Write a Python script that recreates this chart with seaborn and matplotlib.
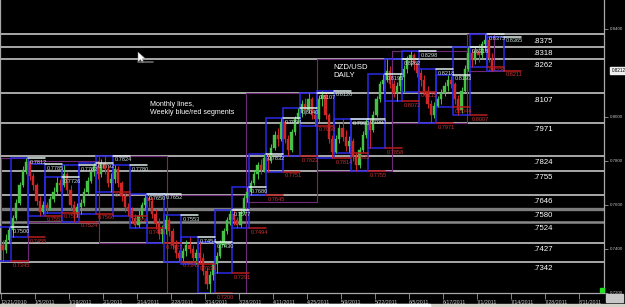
import numpy as np
import pandas as pd
import matplotlib
matplotlib.use("Agg")
import matplotlib.pyplot as plt
from matplotlib.patches import Rectangle, Polygon
import seaborn as sns

# ---------------- data ----------------
first_open = 0.7420
closes = [0.7395, 0.7440, 0.7485,
          0.7540, 0.7610, 0.7690, 0.7760, 0.7795,
          0.7730, 0.7690, 0.7620, 0.7570, 0.7600,
          0.7585, 0.7625, 0.7660, 0.7700, 0.7690,
          0.7740, 0.7670, 0.7600, 0.7560, 0.7590,
          0.7610, 0.7660, 0.7710, 0.7750, 0.7775,
          0.7740, 0.7790, 0.7765, 0.7700, 0.7720,
          0.7765, 0.7700, 0.7640, 0.7590, 0.7575,
          0.7540, 0.7510, 0.7550, 0.7600, 0.7630,
          0.7620, 0.7560, 0.7520, 0.7470, 0.7490,
          0.7530, 0.7480, 0.7420, 0.7380, 0.7360,
          0.7390, 0.7420, 0.7400, 0.7360, 0.7380,
          0.7360, 0.7300, 0.7240, 0.7280, 0.7330,
          0.7370, 0.7420, 0.7480, 0.7530, 0.7560,
          0.7530, 0.7510, 0.7570, 0.7630, 0.7660,
          0.7700, 0.7740, 0.7780, 0.7760, 0.7815,
          0.7800, 0.7860, 0.7920, 0.7900, 0.7975,
          0.7900, 0.7850, 0.7930, 0.7990, 0.8020,
          0.8060, 0.8030, 0.8080, 0.8010, 0.7990,
          0.8080, 0.8100, 0.8010, 0.7900, 0.7840,
          0.7900, 0.7950, 0.7910, 0.7870, 0.7890,
          0.7820, 0.7780, 0.7850, 0.7920, 0.7975,
          0.7940, 0.8010, 0.8080, 0.8150, 0.8170,
          0.8210, 0.8150, 0.8110, 0.8140, 0.8180,
          0.8220, 0.8260, 0.8280, 0.8240, 0.8200,
          0.8170, 0.8120, 0.8060, 0.8010, 0.8050,
          0.8080, 0.8110, 0.8140, 0.8170, 0.8150,
          0.8080, 0.8030, 0.8120, 0.8220, 0.8290,
          0.8260, 0.8300, 0.8280, 0.8330, 0.8350,
          0.8270, 0.8212]
highs = [0.7440, 0.7470, 0.7500,
         0.7555, 0.7625, 0.7705, 0.7775, 0.7812,
         0.7785, 0.7745, 0.7700, 0.7640, 0.7620,
         0.7615, 0.7640, 0.7680, 0.7726, 0.7720,
         0.7782, 0.7750, 0.7690, 0.7620, 0.7610,
         0.7625, 0.7675, 0.7725, 0.7770, 0.7792,
         0.7800, 0.7810, 0.7824, 0.7780, 0.7745,
         0.7780, 0.7775, 0.7710, 0.7655, 0.7610,
         0.7590, 0.7560, 0.7575, 0.7615, 0.7650,
         0.7652, 0.7635, 0.7580, 0.7540, 0.7510,
         0.7553, 0.7545, 0.7495, 0.7440, 0.7395,
         0.7405, 0.7440, 0.7454, 0.7420, 0.7400,
         0.7430, 0.7380, 0.7320, 0.7300, 0.7345,
         0.7385, 0.7440, 0.7495, 0.7545, 0.7577,
         0.7580, 0.7545, 0.7585, 0.7645, 0.7680,
         0.7715, 0.7760, 0.7795, 0.7810, 0.7832,
         0.7830, 0.7875, 0.7935, 0.7950, 0.7994,
         0.7985, 0.7920, 0.7945, 0.8005, 0.8040,
         0.8075, 0.8085, 0.8107, 0.8090, 0.8030,
         0.8095, 0.8120, 0.8105, 0.8020, 0.7920,
         0.7920, 0.7970, 0.7990, 0.7940, 0.7915,
         0.7905, 0.7840, 0.7865, 0.7935, 0.7993,
         0.7990, 0.8025, 0.8095, 0.8165, 0.8195,
         0.8262, 0.8230, 0.8170, 0.8160, 0.8200,
         0.8235, 0.8275, 0.8298, 0.8290, 0.8255,
         0.8218, 0.8190, 0.8140, 0.8075, 0.8070,
         0.8095, 0.8125, 0.8160, 0.8193, 0.8185,
         0.8160, 0.8100, 0.8135, 0.8235, 0.8318,
         0.8310, 0.8320, 0.8330, 0.8345, 0.8375,
         0.8365, 0.8290]
lows = [0.7345, 0.7380, 0.7430,
        0.7455, 0.7530, 0.7600, 0.7680, 0.7740,
        0.7715, 0.7670, 0.7600, 0.7551, 0.7560,
        0.7565, 0.7575, 0.7615, 0.7650, 0.7665,
        0.7680, 0.7650, 0.7580, 0.7524, 0.7545,
        0.7560, 0.7595, 0.7650, 0.7700, 0.7730,
        0.7720, 0.7725, 0.7740, 0.7680, 0.7660,
        0.7700, 0.7680, 0.7620, 0.7570, 0.7550,
        0.7520, 0.7495, 0.7500, 0.7540, 0.7585,
        0.7590, 0.7540, 0.7490, 0.7445, 0.7427,
        0.7470, 0.7460, 0.7400, 0.7360, 0.7342,
        0.7340, 0.7370, 0.7380, 0.7340, 0.7331,
        0.7330, 0.7280, 0.7220, 0.7200, 0.7260,
        0.7291, 0.7360, 0.7410, 0.7470, 0.7510,
        0.7510, 0.7494, 0.7500, 0.7560, 0.7615,
        0.7645, 0.7690, 0.7720, 0.7740, 0.7750,
        0.7751, 0.7790, 0.7850, 0.7870, 0.7890,
        0.7880, 0.7822, 0.7840, 0.7920, 0.7975,
        0.8000, 0.8010, 0.8020, 0.7990, 0.7960,
        0.7975, 0.8050, 0.7990, 0.7880, 0.7814,
        0.7835, 0.7880, 0.7890, 0.7845, 0.7840,
        0.7800, 0.7755, 0.7770, 0.7840, 0.7905,
        0.7858, 0.7930, 0.8000, 0.8070, 0.8120,
        0.8160, 0.8130, 0.8090, 0.8072, 0.8120,
        0.8115, 0.8200, 0.8230, 0.8215, 0.8180,
        0.8140, 0.8100, 0.8040, 0.7971, 0.7995,
        0.8044, 0.8060, 0.8095, 0.8120, 0.8130,
        0.8060, 0.8007, 0.8020, 0.8110, 0.8210,
        0.8229, 0.8240, 0.8250, 0.8270, 0.8300,
        0.8250, 0.8211]
dates = pd.bdate_range("2010-12-21", "2011-07-12").drop(pd.Timestamp("2010-12-24"))

monthly_levels = [0.8375, 0.8318, 0.8262, 0.8107, 0.7971, 0.7824,
                  0.7755, 0.7646, 0.7580, 0.7524, 0.7427, 0.7342]
x_labels = ["12/21/2010", "1/5/2011", "1/19/2011", "2/1/2011", "2/14/2011",
            "2/28/2011", "3/14/2011", "3/28/2011", "4/11/2011", "4/25/2011",
            "5/9/2011", "5/22/2011", "6/5/2011", "6/17/2011", "7/1/2011",
            "7/14/2011", "7/28/2011", "8/11/2011"]
y_ticks = [0.72, 0.74, 0.76, 0.78, 0.80, 0.84]
title_text = "NZD/USD\nDAILY"
note_text = "Monthly lines,\nWeekly blue/red segments"

# ---------------- frame ----------------
df = pd.DataFrame({"date": dates, "close": closes, "high": highs, "low": lows})
df["open"] = [first_open] + closes[:-1]
df["x"] = np.arange(len(df))
df["week"] = df["date"] - pd.to_timedelta(df["date"].dt.weekday, unit="D")
df["month"] = df["date"].dt.to_period("M")

sns.set_theme(style="dark", rc={"axes.facecolor": "black", "figure.facecolor": "black",
                                 "savefig.facecolor": "black"})
plt.rcParams["font.family"] = ["Liberation Sans", "DejaVu Sans"]

W, H = 625, 307
fig = plt.figure(figsize=(W / 100, H / 100), dpi=100)
ax = fig.add_axes([0.0, (H - 293) / H, 604 / W, 293 / H])
ax.set_facecolor("black")
ax.set_xlim(-0.74, 176.9)
ax.set_ylim(0.72, 0.72 + 293 / 2200)

# monthly level lines
strong = {0.7580: ("#7c7c7c", 2.4), 0.7524: ("#8a8a8a", 1.8)}
for lv in monthly_levels:
    col, lw = strong.get(lv, ("#c4c4c4", 1.2))
    ax.axhline(lv, color=col, lw=lw, zorder=1)
    ax.annotate(f"{lv:.4f}"[1:], (156.2, lv), xytext=(0, -2.2), textcoords="offset points",
                color="white", fontsize=5.6, ha="left", va="top", zorder=8)

# monthly boxes (purple)
for _, g in df.groupby("month"):
    x0 = g["x"].iloc[0] - 0.5
    x1 = g["x"].iloc[-1] + 0.5
    lo, hi = g["low"].min(), g["high"].max()
    ax.add_patch(Rectangle((x0, lo), x1 - x0, hi - lo, fill=False,
                           edgecolor="#6e2a78", lw=0.8, zorder=2))

# weekly boxes
weeks = []
for _, g in df.groupby("week"):
    first = g["x"].iloc[0]
    left = first - g["date"].iloc[0].weekday() - 0.5
    weeks.append([left, left + 5, g["high"].max(), g["low"].min()])
for k in range(len(weeks) - 1):
    weeks[k][1] = min(weeks[k][1], weeks[k + 1][0])
for left, right, hi, lo in weeks:
    ax.add_patch(Rectangle((left, lo), right - left, hi - lo, fill=False,
                           edgecolor="#2a2ae6", lw=1.1, zorder=3))

# candles
up = df["close"] >= df["open"]
colors = np.where(up, "#46c246", "#d02626")
ax.vlines(df["x"], df["low"], df["high"], colors=colors, lw=0.7, zorder=4)
body_lo = np.minimum(df["open"], df["close"])
body_h = np.maximum(np.abs(df["close"] - df["open"]), 0.00018)
ax.bar(df["x"], body_h, bottom=body_lo, width=0.62, color=colors,
       edgecolor=colors, lw=0.3, zorder=4)

# previous-week high / low segments
for k, (left, right, hi, lo) in enumerate(weeks):
    if k + 1 < len(weeks):
        s0, s1 = weeks[k + 1][0], weeks[k + 1][1]
    else:
        s0, s1 = right, right + 5
    ax.plot([s0, s1], [hi, hi], color="#dfeeea", lw=1.1, zorder=5)
    ax.plot([s0, s1], [lo, lo], color="#b81c1c", lw=1.1, zorder=5)
    ax.annotate(f"{hi:.4f}", (s0, hi), xytext=(1.0, -1.2), textcoords="offset points",
                color="#cfe3df", fontsize=4.1, ha="left", va="top", zorder=6)
    ax.annotate(f"{lo:.4f}", (s0, lo), xytext=(1.0, -1.2), textcoords="offset points",
                color="#c83232", fontsize=4.1, ha="left", va="top", zorder=6)

# texts
ax.text(150 / 604, (293 - 101) / 293, note_text, transform=ax.transAxes, color="white",
        fontsize=5.1, ha="left", va="top", linespacing=1.15, zorder=8)
ax.text(333 / 604, (293 - 64) / 293, title_text, transform=ax.transAxes, color="white",
        fontsize=5.6, ha="left", va="top", linespacing=1.15, zorder=8)

# axes styling
for side in ["top"]:
    ax.spines[side].set_visible(False)
for side in ["left", "right", "bottom"]:
    ax.spines[side].set_visible(True)
    ax.spines[side].set_color("#a8a8a8")
    ax.spines[side].set_linewidth(0.9)
ax.grid(False)
ax.set_xticks(np.arange(len(x_labels)) * 10 - 0.5)
ax.set_xticklabels(x_labels)
for lab in ax.get_xticklabels():
    lab.set_horizontalalignment("left")
ax.tick_params(axis="x", bottom=True, length=4, width=0.6, color="#9a9a9a",
               labelsize=3.8, labelcolor="#c8c8c8", pad=1.0, direction="out")
ax.yaxis.tick_right()
ax.set_yticks(y_ticks)
ax.set_yticklabels([f"{v:.4f}" for v in y_ticks])
ax.tick_params(axis="y", right=True, length=3, width=0.6, color="#9a9a9a",
               labelsize=3.2, labelcolor="#c0c0c0", pad=1.5)

# current price marker
last = closes[-1]
ax.annotate(f"{last:.4f}", (1.0, last), xycoords=("axes fraction", "data"),
            xytext=(5.5, 0), textcoords="offset points", fontsize=3.3, color="black",
            ha="left", va="center", annotation_clip=False,
            bbox=dict(boxstyle="square,pad=0.25", fc="#f0f0f0", ec="#f0f0f0"))

# window chrome
fig.patches.append(Rectangle((0, 0), 1, 3.5 / H, transform=fig.transFigure,
                             color="#d4d0c8", zorder=0))
fig.patches.append(Rectangle((76 / W, 0), 354 / W, 3.0 / H, transform=fig.transFigure,
                             color="white", zorder=1))
fig.patches.append(Rectangle((606 / W, 5 / H), 17 / W, 8 / H, transform=fig.transFigure,
                             color="#c8c8c8", zorder=1))
fig.patches.append(Rectangle((600 / W, (H - 292) / H), 4 / W, 4 / H, transform=fig.transFigure,
                             color="#22e022", zorder=5))
fig.lines.append(plt.Line2D([138 / W, 153 / W], [1 - 61.5 / H, 1 - 61.5 / H],
                            transform=fig.transFigure, color="#6a6a6a", lw=1.2))
cursor = [(138, 52), (138, 62), (140.5, 59.5), (142.2, 63), (143.8, 62.3), (142.2, 58.8), (145.5, 58.8)]
fig.patches.append(Polygon([(px / W, 1 - py / H) for px, py in cursor], closed=True,
                           transform=fig.transFigure, fc="white", ec="#888888", lw=0.3))

fig.savefig("out.png", dpi=100, facecolor="black")
